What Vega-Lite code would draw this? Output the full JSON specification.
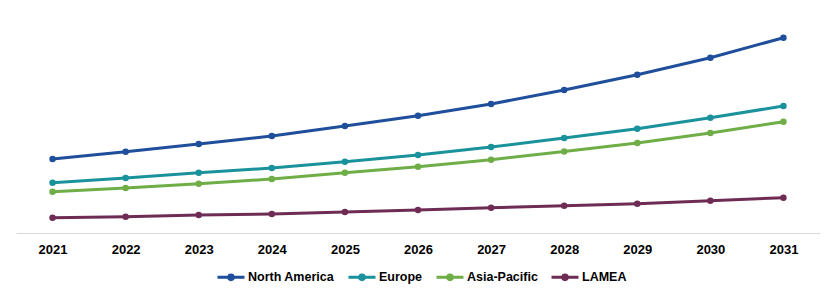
{
  "$schema": "https://vega.github.io/schema/vega-lite/v6.json",
  "width": 804,
  "height": 223,
  "autosize": {"type": "none"},
  "padding": {"left": 16, "top": 10, "right": 15, "bottom": 62},
  "background": "white",
  "config": {"view": {"stroke": null}, "font": "Liberation Sans"},
  "data": {"values": [
    {"year": "2021", "region": "North America", "value": 74},
    {"year": "2022", "region": "North America", "value": 81.3},
    {"year": "2023", "region": "North America", "value": 89},
    {"year": "2024", "region": "North America", "value": 97},
    {"year": "2025", "region": "North America", "value": 107},
    {"year": "2026", "region": "North America", "value": 117.3},
    {"year": "2027", "region": "North America", "value": 129},
    {"year": "2028", "region": "North America", "value": 143},
    {"year": "2029", "region": "North America", "value": 158.3},
    {"year": "2030", "region": "North America", "value": 175.3},
    {"year": "2031", "region": "North America", "value": 195.3},
    {"year": "2021", "region": "Europe", "value": 50.3},
    {"year": "2022", "region": "Europe", "value": 55},
    {"year": "2023", "region": "Europe", "value": 60.3},
    {"year": "2024", "region": "Europe", "value": 65},
    {"year": "2025", "region": "Europe", "value": 71.3},
    {"year": "2026", "region": "Europe", "value": 78},
    {"year": "2027", "region": "Europe", "value": 86},
    {"year": "2028", "region": "Europe", "value": 95},
    {"year": "2029", "region": "Europe", "value": 104.3},
    {"year": "2030", "region": "Europe", "value": 115.3},
    {"year": "2031", "region": "Europe", "value": 127},
    {"year": "2021", "region": "Asia-Pacific", "value": 41.3},
    {"year": "2022", "region": "Asia-Pacific", "value": 45},
    {"year": "2023", "region": "Asia-Pacific", "value": 49.3},
    {"year": "2024", "region": "Asia-Pacific", "value": 54},
    {"year": "2025", "region": "Asia-Pacific", "value": 60.3},
    {"year": "2026", "region": "Asia-Pacific", "value": 66.3},
    {"year": "2027", "region": "Asia-Pacific", "value": 73.3},
    {"year": "2028", "region": "Asia-Pacific", "value": 81.6},
    {"year": "2029", "region": "Asia-Pacific", "value": 90},
    {"year": "2030", "region": "Asia-Pacific", "value": 100},
    {"year": "2031", "region": "Asia-Pacific", "value": 111.3},
    {"year": "2021", "region": "LAMEA", "value": 15.3},
    {"year": "2022", "region": "LAMEA", "value": 16.3},
    {"year": "2023", "region": "LAMEA", "value": 18},
    {"year": "2024", "region": "LAMEA", "value": 19},
    {"year": "2025", "region": "LAMEA", "value": 21},
    {"year": "2026", "region": "LAMEA", "value": 23},
    {"year": "2027", "region": "LAMEA", "value": 25.3},
    {"year": "2028", "region": "LAMEA", "value": 27.3},
    {"year": "2029", "region": "LAMEA", "value": 29.3},
    {"year": "2030", "region": "LAMEA", "value": 32.3},
    {"year": "2031", "region": "LAMEA", "value": 35.3}
  ]},
  "mark": {"type": "line", "strokeWidth": 3, "point": {"filled": true, "size": 42, "opacity": 1}},
  "encoding": {
    "x": {
      "field": "year", "type": "ordinal",
      "scale": {"type": "point", "padding": 0.5},
      "axis": {
        "title": null, "labelAngle": 0, "ticks": false,
        "labelFont": "Liberation Sans", "labelFontSize": 13, "labelFontWeight": "bold",
        "labelColor": "#000000", "labelPadding": 10,
        "domainColor": "#d9d9d9", "domainWidth": 1, "grid": false
      }
    },
    "y": {
      "field": "value", "type": "quantitative",
      "scale": {"domain": [0, 223], "nice": false, "zero": true},
      "axis": null
    },
    "color": {
      "field": "region", "type": "nominal",
      "sort": ["North America", "Europe", "Asia-Pacific", "LAMEA"],
      "scale": {
        "domain": ["North America", "Europe", "Asia-Pacific", "LAMEA"],
        "range": ["#1F4E9B", "#1A929C", "#6FAD47", "#6E2C55"]
      },
      "legend": {
        "title": null, "orient": "none", "direction": "horizontal",
        "legendX": 200, "legendY": 252,
        "labelFont": "Liberation Sans", "labelFontSize": 12.5, "labelFontWeight": "bold",
        "labelColor": "#000000", "labelOffset": 2, "columnPadding": 7,
        "symbolType": "M-1,0H1M0.17,0A0.17,0.17,0,1,1,-0.17,0A0.17,0.17,0,1,1,0.17,0Z",
        "symbolSize": 729, "symbolStrokeWidth": 3,
        "encode": {"symbols": {"update": {"fill": {"scale": "color", "field": "value"}}}}
      }
    }
  }
}
